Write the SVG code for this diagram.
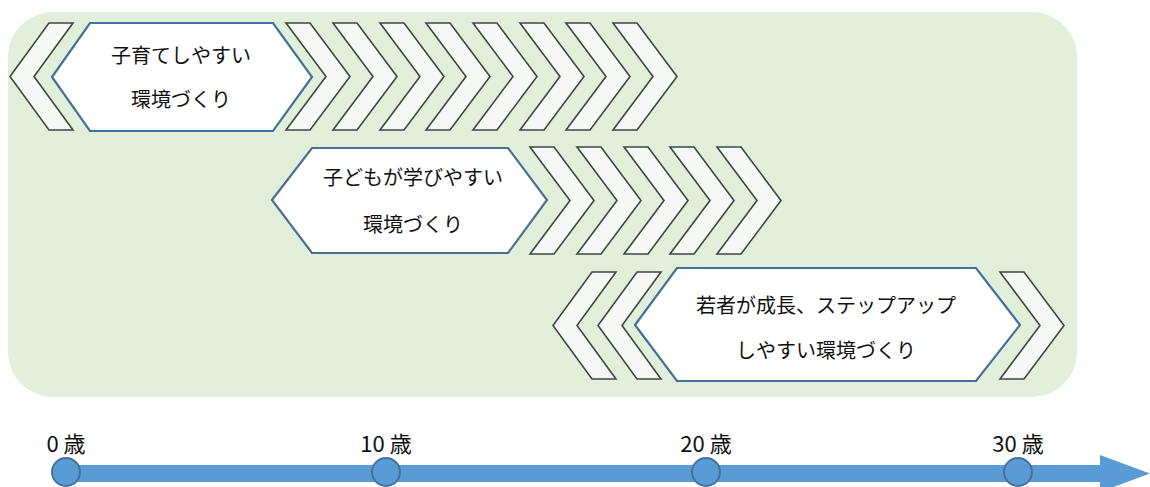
<svg xmlns="http://www.w3.org/2000/svg" width="1150" height="487" viewBox="0 0 1150 487">
<style>
.bg{fill:#e2efda}
.chev{fill:#f6f8f6;stroke:#3d4743;stroke-width:1.6;stroke-linejoin:miter}
.hex{fill:#ffffff;stroke:#41719c;stroke-width:2.2}
.t{font-family:"Noto Sans CJK JP","Noto Sans",sans-serif;font-size:20px;fill:#111;text-anchor:middle}
.ax{font-family:"Noto Sans CJK JP","Noto Sans",sans-serif;font-size:22px;fill:#111;text-anchor:middle}
.band{fill:#5b9bd5}
.dot{fill:#5b9bd5;stroke:#41719c;stroke-width:2}
</style>
<defs>
<path id="chevR" d="M0,0 H24 L64,53.5 L24,107 H0 L40,53.5 Z"/>
<path id="chevL" d="M39,0 H63 L24,53.5 L63,107 H39 L0,53.5 Z"/>
</defs>
<rect id="background" class="bg" x="8" y="12" width="1069" height="385" rx="45" ry="45"/>
<g id="chevrons">
<use href="#chevL" class="chev" x="10" y="23"/>
<use href="#chevR" class="chev" x="286" y="23"/>
<use href="#chevR" class="chev" x="333" y="23"/>
<use href="#chevR" class="chev" x="380" y="23"/>
<use href="#chevR" class="chev" x="426" y="23"/>
<use href="#chevR" class="chev" x="473" y="23"/>
<use href="#chevR" class="chev" x="520" y="23"/>
<use href="#chevR" class="chev" x="566" y="23"/>
<use href="#chevR" class="chev" x="613" y="23"/>
<use href="#chevR" class="chev" x="530" y="147"/>
<use href="#chevR" class="chev" x="577" y="147"/>
<use href="#chevR" class="chev" x="624" y="147"/>
<use href="#chevR" class="chev" x="670" y="147"/>
<use href="#chevR" class="chev" x="717" y="147"/>
<use href="#chevL" class="chev" x="553" y="272"/>
<use href="#chevL" class="chev" x="598" y="272"/>
<use href="#chevR" class="chev" x="1000" y="272"/>
</g>
<g id="node-childcare">
<path class="hex" d="M52,77 L90,23 H273 L312,77 L273,131 H90 Z"/>
<text class="t" x="181" y="63">子育てしやすい</text>
<text class="t" x="181" y="107">環境づくり</text>
</g>
<g id="node-learning">
<path class="hex" style="stroke:#4a6f92" d="M272,200 L312,148 H508 L547,200 L508,253 H312 Z"/>
<text class="t" x="413" y="185">子どもが学びやすい</text>
<text class="t" x="413" y="232">環境づくり</text>
</g>
<g id="node-youth">
<path class="hex" d="M635,325 L677,268 H976 L1020,325 L976,381 H677 Z"/>
<text class="t" x="826" y="313">若者が成長、ステップアップ</text>
<text class="t" x="826" y="358">しやすい環境づくり</text>
</g>
<g id="timeline">
<rect class="band" x="66" y="465" width="1036" height="17"/>
<polygon class="band" points="1100,455 1150,473.5 1100,492"/>
<circle class="dot" cx="66" cy="472" r="14"/>
<circle class="dot" cx="386" cy="472" r="14"/>
<circle class="dot" cx="706" cy="472" r="14"/>
<circle class="dot" cx="1018" cy="472" r="14"/>
<text class="ax" x="66" y="452">0 歳</text>
<text class="ax" x="386" y="452">10 歳</text>
<text class="ax" x="706" y="452">20 歳</text>
<text class="ax" x="1018" y="452">30 歳</text>
</g>
</svg>
